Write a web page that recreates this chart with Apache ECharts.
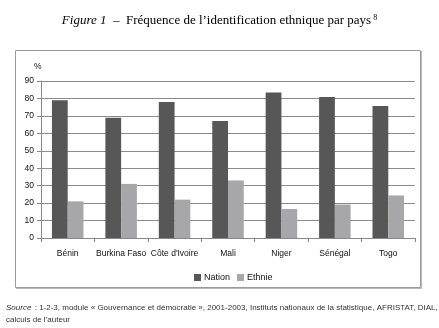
<!DOCTYPE html>
<html><head><meta charset="utf-8">
<script src="https://cdn.jsdelivr.net/npm/echarts@6/dist/echarts.min.js"></script>
<style>html,body{margin:0;padding:0;background:#fff}#c{width:439px;height:328px}</style>
</head><body><div id="c"></div>
<script>
const categories = ['Bénin','Burkina Faso','Côte d\'Ivoire','Mali','Niger','Sénégal','Togo'];
const nation = [79, 69, 78, 67, 83.4, 80.8, 75.6];
const ethnie = [21, 31, 22, 33, 16.6, 19.2, 24.4];
const yTicks = [0,10,20,30,40,50,60,70,80,90];

const chart = echarts.init(document.getElementById('c'), null, {renderer:'canvas'});
const narrow = '"Liberation Sans Narrow", "Liberation Sans", sans-serif';
chart.setOption({
  animation:false,
  backgroundColor:'#fff',
  graphic:[
    {type:'rect', shape:{x:15.5,y:50.5,width:405,height:237}, style:{fill:'none', stroke:'#9a9a9a', lineWidth:1}},
    {type:'line', shape:{x1:421.5,y1:51,x2:421.5,y2:289}, style:{stroke:'#bbbbbb', lineWidth:1}},
    {type:'line', shape:{x1:16,y1:288.5,x2:422,y2:288.5}, style:{stroke:'#bbbbbb', lineWidth:1}},
    {type:'text', left:'center', top:14, style:{
      text:'{i|Figure 1}{n|  –  Fréquence de l’identification ethnique par pays}{s| 8}',
      rich:{
        i:{fontFamily:'"Liberation Serif", serif', fontStyle:'italic', fontSize:13, fill:'#000'},
        n:{fontFamily:'"Liberation Serif", serif', fontSize:13, fill:'#000'},
        s:{fontFamily:'"Liberation Serif", serif', fontSize:8, fill:'#000', verticalAlign:'top', padding:[0,0,6,0]}
      }}},
    {type:'text', left:34, top:62, style:{text:'%', fontFamily:narrow, fontSize:8.5, fill:'#111'}},
    {type:'text', left:6, top:302, style:{
      text:'{i|Source} {n|: 1-2-3, module « Gouvernance et démocratie », 2001-2003, Instituts nationaux de la statistique, AFRISTAT, DIAL,}\n{n|calculs de l’auteur}',
      rich:{
        i:{fontFamily:narrow, fontStyle:'italic', fontSize:8, fill:'#333', lineHeight:11},
        n:{fontFamily:narrow, fontSize:8, fill:'#333', lineHeight:11}
      }}}
  ],
  legend:{
    data:['Nation','Ethnie'], left:189, top:268, itemWidth:7, itemHeight:7, itemGap:7,
    icon:'rect', textStyle:{fontFamily:narrow, fontSize:9, color:'#111', padding:[0,0,0,-2]}
  },
  grid:{left:41, right:24, top:81, bottom:90, containLabel:false},
  xAxis:{
    type:'category', data:categories,
    axisLine:{lineStyle:{color:'#888', width:1}},
    axisTick:{show:true, alignWithLabel:false, length:4, lineStyle:{color:'#888'}},
    axisLabel:{fontFamily:narrow, fontSize:8.5, color:'#111', margin:11, interval:0}
  },
  yAxis:{
    type:'value', min:0, max:90, interval:10,
    axisLine:{show:true, lineStyle:{color:'#888'}},
    axisTick:{show:true, length:4, lineStyle:{color:'#888'}},
    axisLabel:{fontFamily:narrow, fontSize:8.5, color:'#111', margin:7,
      formatter:(v)=> yTicks.includes(v) ? String(v) : ''},
    splitLine:{lineStyle:{color:'#8c8c8c', width:1}}
  },
  series:[
    {name:'Nation', type:'bar', data:nation, itemStyle:{color:'#575757'}, barGap:'0%', barCategoryGap:'41%'},
    {name:'Ethnie', type:'bar', data:ethnie, itemStyle:{color:'#a7a7a9'}, barGap:'0%', barCategoryGap:'41%'}
  ]
});
</script></body></html>
